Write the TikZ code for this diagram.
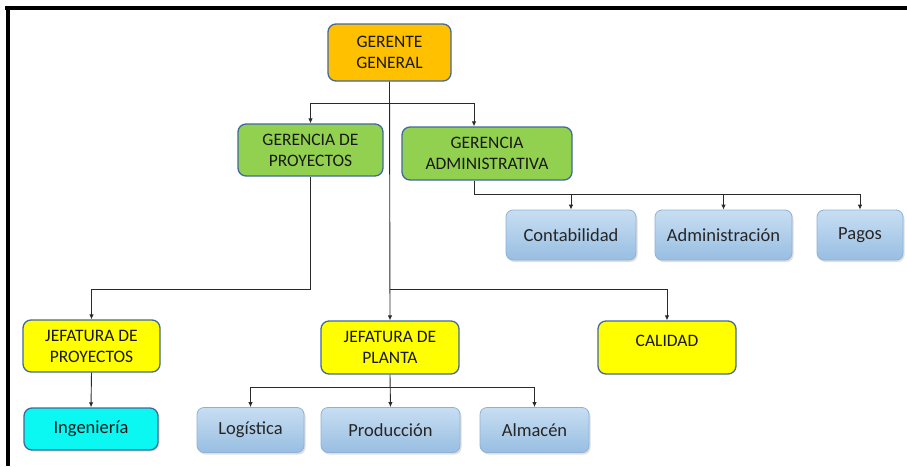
\documentclass[tikz,border=0pt]{standalone}
\usepackage{fontspec}
\setmainfont{Carlito}
\usetikzlibrary{arrows.meta,calc,shadows}
\definecolor{bordc}{HTML}{41699C}
\definecolor{orangec}{HTML}{FFC000}
\definecolor{greenc}{HTML}{92D050}
\definecolor{yellowc}{HTML}{FFFF00}
\definecolor{cyanc}{HTML}{0BF7F2}
\definecolor{bluetop}{HTML}{C8DEF2}
\definecolor{bluebot}{HTML}{98BEE2}
\definecolor{blueedge}{HTML}{8FB1D6}
\definecolor{linec}{HTML}{2A2A2A}
\begin{document}
\begin{tikzpicture}[x=1pt,y=-1pt,
  box/.style={draw=bordc, line width=1.3pt, rounded corners=8pt, align=center,
    font=\fontsize{17.5}{21}\selectfont, inner sep=1pt, text=black!90},
  topbox/.style={box, fill=orangec},
  greenbox/.style={box, fill=greenc},
  yelbox/.style={box, fill=yellowc},
  cyanbox/.style={box, fill=cyanc, font=\fontsize{18.5}{21}\selectfont,
    drop shadow={opacity=0.25,shadow xshift=1.5pt,shadow yshift=-1.5pt}},
  bluebox/.style={draw=blueedge, line width=0.8pt, rounded corners=7pt, align=center,
    top color=bluetop, bottom color=bluebot, font=\fontsize{18.5}{21}\selectfont, text=black!85,
    drop shadow={opacity=0.25,shadow xshift=1.5pt,shadow yshift=-2pt}},
  conn/.style={draw=linec, line width=0.9pt},
  arr/.style={conn, -{Latex[length=5pt,width=4.5pt]}}
]
\useasboundingbox (0,0) rectangle (907,466);
% frame
\fill[black] (5,6) rectangle (907,10);
\fill[black] (6,6) rectangle (10,466);

% nodes
\node[topbox, minimum width=123pt, minimum height=57pt] (gg) at (389.5,52.5)
  {GERENTE\\GENERAL};
\node[greenbox, minimum width=145pt, minimum height=52pt] (gp) at (310.5,150)
  {GERENCIA DE\\PROYECTOS};
\node[greenbox, minimum width=170pt, minimum height=53pt] (ga) at (487,153.5)
  {GERENCIA\\ADMINISTRATIVA};
\node[bluebox, minimum width=130pt, minimum height=50pt] (con) at (571,235) {Contabilidad};
\node[bluebox, minimum width=137pt, minimum height=50pt] (adm) at (723.5,235) {Administración};
\node[bluebox, minimum width=86pt, minimum height=50pt] (pag) at (860,235) {Pagos};
\node[yelbox, minimum width=137pt, minimum height=52pt] (jpr) at (91.5,346)
  {JEFATURA DE\\PROYECTOS};
\node[yelbox, minimum width=138pt, minimum height=53pt] (jpl) at (390,347.5)
  {JEFATURA DE\\PLANTA};
\node[yelbox, minimum width=138pt, minimum height=53pt, text depth=14pt] (cal) at (667,347.5)
  {CALIDAD};
\node[cyanbox, minimum width=134pt, minimum height=42pt] (ing) at (91,429) {Ingeniería};
\node[bluebox, minimum width=107pt, minimum height=45pt] (log) at (250.5,430) {Logística};
\node[bluebox, minimum width=139pt, minimum height=45pt] (pro) at (390.5,430) {Producción};
\node[bluebox, minimum width=109pt, minimum height=45pt] (alm) at (534.5,430) {Almacén};

% bus coordinates
\coordinate (busA) at (0,103);
\coordinate (busB) at (0,194);
\coordinate (busC) at (0,289);
\coordinate (busD) at (0,387);

% connectors
\draw[arr] (gg.south) -- (jpl.north);
\draw[arr] (gp.north |- busA) -- (gp.north);
\draw[arr] ([xshift=-13pt]ga.north |- busA) -- ([xshift=-13pt]ga.north);
\draw[conn] (gp.north |- busA) -- ([xshift=-13pt]ga.north |- busA);

\draw[arr] (gp.south) |- (jpr.north |- busC) -- (jpr.north);
\draw[arr] (jpl.north |- busC) -| (cal.north);

\draw[conn] ([xshift=-13pt]ga.south) |- (pag.north |- busB);
\draw[arr] (con.north |- busB) -- (con.north);
\draw[arr] (adm.north |- busB) -- (adm.north);
\draw[arr] (pag.north |- busB) -- (pag.north);

\draw[arr] (jpr.south) -- (ing.north);

\draw[conn] (log.north |- busD) -- (alm.north |- busD);
\draw[arr] (jpl.south) -- (pro.north);
\draw[arr] (log.north |- busD) -- (log.north);
\draw[arr] (alm.north |- busD) -- (alm.north);
\end{tikzpicture}
\end{document}
